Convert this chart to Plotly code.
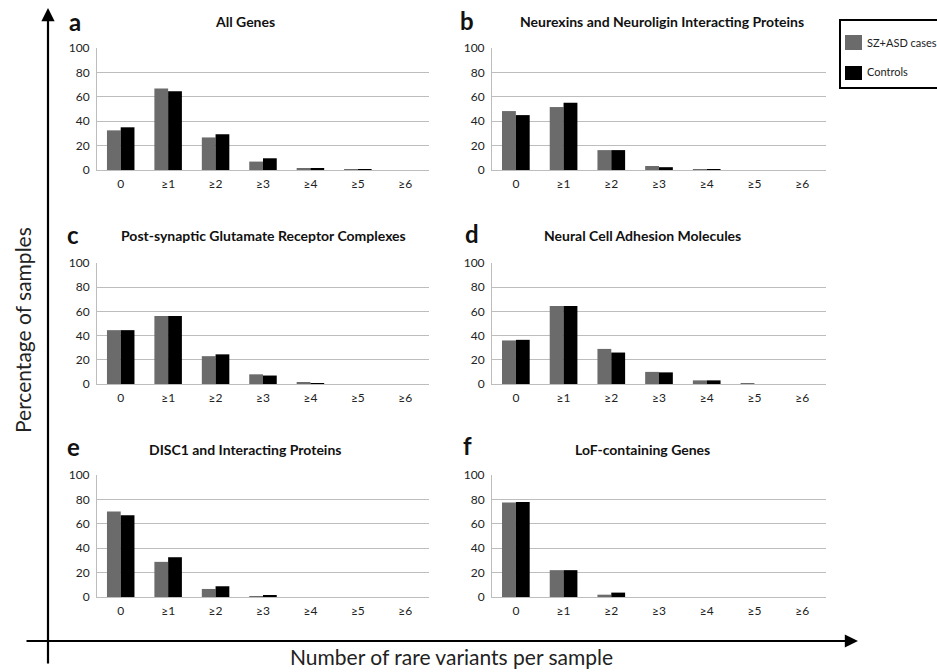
import plotly.graph_objects as go

W, H = 937, 672

categories = ["0", "≥1", "≥2", "≥3", "≥4", "≥5", "≥6"]
y_ticks = [0, 20, 40, 60, 80, 100]

panel_letters = ["a", "b", "c", "d", "e", "f"]
panel_titles = [
    "All Genes",
    "Neurexins and Neuroligin Interacting Proteins",
    "Post-synaptic Glutamate Receptor Complexes",
    "Neural Cell Adhesion Molecules",
    "DISC1 and Interacting Proteins",
    "LoF-containing Genes",
]
series_names = ["SZ+ASD cases", "Controls"]

a_cases = [32.5, 66.8, 26.7, 6.9, 1.6, 0.2, 0]
a_controls = [35.0, 64.5, 29.3, 9.6, 0.9, 0.6, 0]
b_cases = [48.3, 51.6, 16.3, 3.3, 0.7, 0, 0]
b_controls = [45.0, 55.2, 16.3, 2.3, 0.8, 0, 0]
c_cases = [44.5, 56.3, 23.0, 8.0, 1.6, 0, 0]
c_controls = [44.5, 56.3, 24.5, 7.0, 0.6, 0, 0]
d_cases = [36.0, 64.5, 29.0, 10.0, 3.0, 0.4, 0]
d_controls = [36.5, 64.5, 26.0, 9.6, 3.0, 0, 0]
e_cases = [70.0, 28.8, 6.6, 0.8, 0, 0, 0]
e_controls = [67.0, 32.6, 8.8, 1.1, 0, 0, 0]
f_cases = [77.5, 22.0, 1.9, 0, 0, 0, 0]
f_controls = [77.8, 22.0, 3.6, 0, 0, 0, 0]

cases_sets = [a_cases, b_cases, c_cases, d_cases, e_cases, f_cases]
control_sets = [a_controls, b_controls, c_controls, d_controls, e_controls, f_controls]

CASE_COLOR = "#6b6b6b"
CTRL_COLOR = "#000000"
GRID = "#bdbdbd"
FONT = "Lato"

# panel boxes in pixels: (x0, x1, ytop(100), ybottom(0))
cols = [(97, 429), (492, 826)]
rows = [(48, 170), (263, 384), (475, 597)]
title_pos = [(245, 22), (662, 22), (263, 235), (642, 235), (245, 449), (642, 449)]
letter_pos = [(75, 21), (467, 20), (73, 234), (472, 233), (73, 446), (467, 445)]


def px(x):
    return x / W


def py(y):
    return 1 - y / H


fig = go.Figure()
layout_axes = {}
annotations = []

for i in range(6):
    r, c = divmod(i, 2)
    x0, x1 = cols[c]
    yt, yb = rows[r]
    n = "" if i == 0 else str(i + 1)
    xa, ya = "x" + n, "y" + n
    fig.add_trace(go.Bar(x=categories, y=cases_sets[i], name=series_names[0],
                         marker=dict(color=CASE_COLOR, line=dict(width=0)),
                         xaxis=xa, yaxis=ya, showlegend=False))
    fig.add_trace(go.Bar(x=categories, y=control_sets[i], name=series_names[1],
                         marker=dict(color=CTRL_COLOR, line=dict(width=0)),
                         xaxis=xa, yaxis=ya, showlegend=False))
    layout_axes["xaxis" + n] = dict(
        domain=[px(x0), px(x1)], anchor=ya, showgrid=False,
        showline=True, linecolor=GRID, linewidth=1, ticks="",
        ticklabelstandoff=3,
        tickfont=dict(family=FONT, size=12, color="#222222"),
        fixedrange=True,
    )
    layout_axes["yaxis" + n] = dict(
        domain=[py(yb), py(yt)], anchor=xa, range=[0, 100],
        tickvals=y_ticks, showgrid=True, gridcolor=GRID, gridwidth=1,
        zeroline=False, showline=True, linecolor=GRID, linewidth=1,
        ticks="", ticklabelstandoff=4,
        tickfont=dict(family=FONT, size=12, color="#222222"),
        fixedrange=True,
    )
    tx, ty = title_pos[i]
    annotations.append(dict(x=px(tx), y=py(ty), xref="paper", yref="paper",
                            text="<b>" + panel_titles[i] + "</b>", showarrow=False,
                            xanchor="center", yanchor="middle",
                            font=dict(family=FONT, size=14, color="#111111")))
    lx, ly = letter_pos[i]
    annotations.append(dict(x=px(lx), y=py(ly), xref="paper", yref="paper",
                            text="<b>" + panel_letters[i] + "</b>", showarrow=False,
                            xanchor="center", yanchor="middle",
                            font=dict(family=FONT, size=24, color="#111111")))

# axis titles
annotations.append(dict(x=px(22), y=py(330), xref="paper", yref="paper",
                        text="Percentage of samples", showarrow=False, textangle=-90,
                        xanchor="center", yanchor="middle",
                        font=dict(family=FONT, size=21, color="#222222")))
annotations.append(dict(x=px(451), y=py(656), xref="paper", yref="paper",
                        text="Number of rare variants per sample", showarrow=False,
                        xanchor="center", yanchor="middle",
                        font=dict(family=FONT, size=21, color="#222222")))

# arrows
annotations.append(dict(x=px(48), y=py(8), xref="paper", yref="paper", text="",
                        showarrow=True, arrowhead=2, arrowsize=1.2, arrowwidth=2.2,
                        arrowcolor="#000000", axref="pixel", ayref="pixel",
                        ax=0, ay=657))
annotations.append(dict(x=px(858), y=py(641), xref="paper", yref="paper", text="",
                        showarrow=True, arrowhead=2, arrowsize=1.2, arrowwidth=2.2,
                        arrowcolor="#000000", axref="pixel", ayref="pixel",
                        ax=-833, ay=0))

# legend (manual)
shapes = [
    dict(type="rect", xref="paper", yref="paper", x0=px(840), x1=px(960),
         y0=py(88), y1=py(20), line=dict(color="#000000", width=2), fillcolor="white"),
    dict(type="rect", xref="paper", yref="paper", x0=px(845), x1=px(862),
         y0=py(50), y1=py(35), line=dict(width=0), fillcolor=CASE_COLOR),
    dict(type="rect", xref="paper", yref="paper", x0=px(845), x1=px(862),
         y0=py(80), y1=py(66), line=dict(width=0), fillcolor=CTRL_COLOR),
]
annotations.append(dict(x=px(865), y=py(42), xref="paper", yref="paper",
                        text=series_names[0], showarrow=False, xanchor="left",
                        yanchor="middle", font=dict(family=FONT, size=11, color="#222222")))
annotations.append(dict(x=px(865), y=py(72), xref="paper", yref="paper",
                        text=series_names[1], showarrow=False, xanchor="left",
                        yanchor="middle", font=dict(family=FONT, size=11, color="#222222")))

fig.update_layout(
    width=W, height=H,
    margin=dict(l=0, r=0, t=0, b=0, autoexpand=False),
    paper_bgcolor="white", plot_bgcolor="white",
    barmode="group", bargap=0.42, bargroupgap=0,
    showlegend=False,
    annotations=annotations, shapes=shapes,
    **layout_axes,
)

fig.write_html("out.html", config={"displayModeBar": False},
               post_script="document.body.style.margin='0';")
